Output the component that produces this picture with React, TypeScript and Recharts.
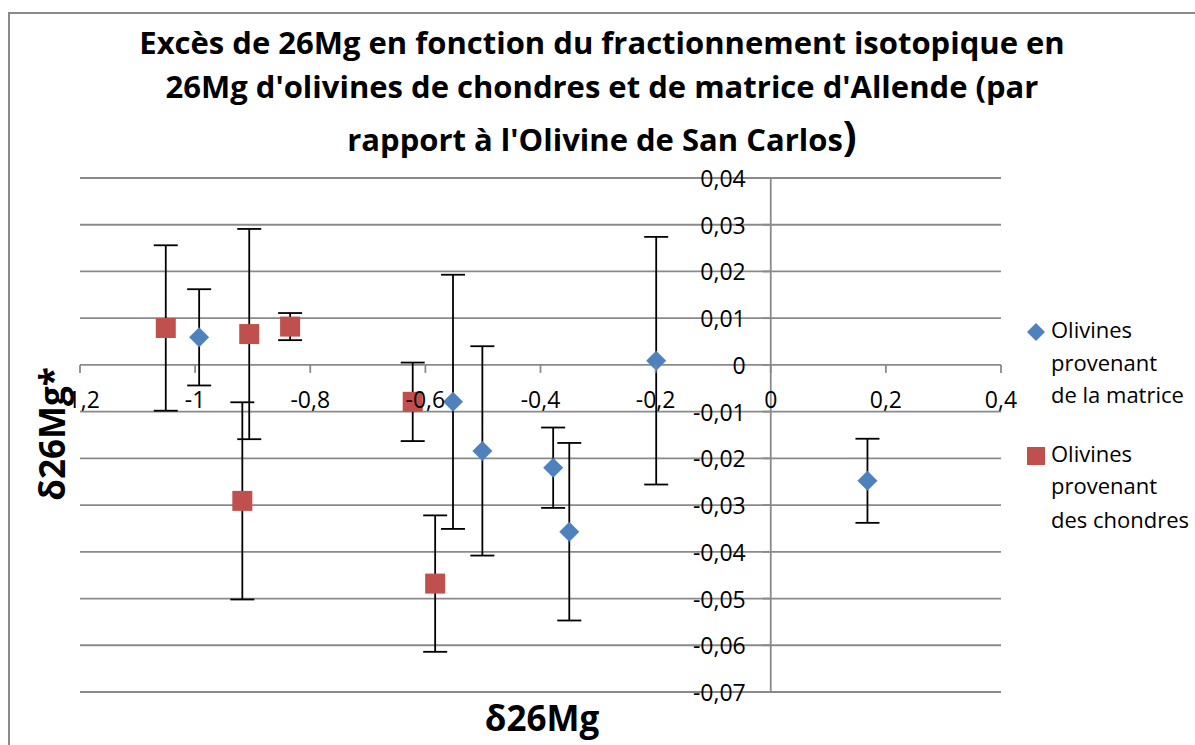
import { ScatterChart, Scatter, XAxis, YAxis, ErrorBar, ReferenceLine, ReferenceDot } from 'recharts'

// axis ticks
const xTicks = [-1.2, -1, -0.8, -0.6, -0.4, -0.2, 0, 0.2, 0.4]
const yTicks = [0.04, 0.03, 0.02, 0.01, 0, -0.01, -0.02, -0.03, -0.04, -0.05, -0.06, -0.07]

// Olivines provenant de la matrice
const matriceX = [-0.993, -0.552, -0.501, -0.378, -0.35, -0.199, 0.168]
const matriceY = [0.0059, -0.0079, -0.0184, -0.022, -0.0357, 0.0009, -0.0248]
const matriceErr = [0.0103, 0.0272, 0.0224, 0.0086, 0.019, 0.0265, 0.009]

// Olivines provenant des chondres
const chondresX = [-1.051, -0.918, -0.906, -0.835, -0.622, -0.583]
const chondresY = [0.0079, -0.0291, 0.0066, 0.0082, -0.0079, -0.0468]
const chondresErr = [0.0177, 0.0211, 0.0225, 0.0029, 0.0084, 0.0146]

const BLUE = '#4F81BD'
const RED = '#C0504D'
const GRID = '#8a8a8a'
const FONT = '"Open Sans", Lato, sans-serif'

const matrice = matriceX.map((x, i) => ({ x, y: matriceY[i], err: matriceErr[i] }))
const chondres = chondresX.map((x, i) => ({ x, y: chondresY[i], err: chondresErr[i] }))

const fmt = (v: number) => String(+v.toFixed(2)).replace('.', ',')

const Diamond = (p: any) => (
  <path d={`M${p.cx},${p.cy - 10}L${p.cx + 10},${p.cy}L${p.cx},${p.cy + 10}L${p.cx - 10},${p.cy}Z`} fill={BLUE} />
)
const Square = (p: any) => <rect x={p.cx - 10} y={p.cy - 10} width={20} height={20} fill={RED} />

export default function App() {
  return (
    <div style={{ position: 'absolute', left: 0, top: 0, width: 1195, height: 745, overflow: 'hidden', background: '#fff' }}>
      <div style={{ position: 'absolute', left: 8, top: 12, width: 1400, height: 1000, border: `2px solid ${GRID}` }} />
      <div style={{ position: 'absolute', left: 0, top: 0 }}>
        <ScatterChart width={1195} height={745} margin={{ top: 178, right: 194, bottom: 53, left: 80 }}>
          <XAxis type="number" dataKey="x" domain={[-1.2, 0.4]} ticks={xTicks} allowDataOverflow height={0} tick={false} axisLine={false} tickLine={false} />
          <YAxis type="number" dataKey="y" domain={[-0.07, 0.04]} ticks={yTicks} allowDataOverflow width={0} tick={false} axisLine={false} tickLine={false} />
          {yTicks.map((t) => (
            <ReferenceLine key={'g' + t} y={t} stroke={GRID} strokeWidth={1.8} ifOverflow="visible" />
          ))}
          <ReferenceLine x={0} stroke={GRID} strokeWidth={1.8} />
          <Scatter data={matrice} shape={Diamond} isAnimationActive={false}>
            <ErrorBar dataKey="err" direction="y" width={12} stroke="#000" strokeWidth={1.8} />
          </Scatter>
          <Scatter data={chondres} shape={Square} isAnimationActive={false}>
            <ErrorBar dataKey="err" direction="y" width={12} stroke="#000" strokeWidth={1.8} />
          </Scatter>
          {xTicks.map((t) => (
            <ReferenceDot
              key={'x' + t}
              x={t}
              y={0}
              r={0}
              ifOverflow="visible"
              shape={(p: any) => (
                <g>
                  <line x1={p.cx} y1={p.cy} x2={p.cx} y2={p.cy + 8} stroke={GRID} strokeWidth={1.8} />
                  <text x={p.cx} y={p.cy + 43} textAnchor="middle" fontFamily={FONT} fontSize={23} fill="#000">
                    {fmt(t)}
                  </text>
                </g>
              )}
            />
          ))}
          {yTicks.map((t) => (
            <ReferenceDot
              key={'y' + t}
              x={0}
              y={t}
              r={0}
              ifOverflow="visible"
              shape={(p: any) => (
                <g>
                  <line x1={p.cx - 8} y1={p.cy} x2={p.cx} y2={p.cy} stroke={GRID} strokeWidth={1.8} />
                  <text x={p.cx - 25} y={p.cy + 9} textAnchor="end" fontFamily={FONT} fontSize={23} fill="#000">
                    {fmt(t)}
                  </text>
                </g>
              )}
            />
          ))}
        </ScatterChart>
      </div>
      <svg width={1195} height={745} style={{ position: 'absolute', left: 0, top: 0, pointerEvents: 'none' }}>
        <g fontFamily={FONT} fontWeight="bold" fill="#000" textAnchor="middle">
          <text x={602} y={54} fontSize={31}>Excès de 26Mg en fonction du fractionnement isotopique en</text>
          <text x={602} y={98} fontSize={31}>26Mg d'olivines de chondres et de matrice d'Allende (par</text>
          <text x={602} y={151} fontSize={31}>
            rapport à l'Olivine de San Carlos<tspan fontSize={41}>)</tspan>
          </text>
          <text x={542} y={731} fontSize={35}>δ26Mg</text>
          <text x={0} y={0} fontSize={35} transform="translate(65,434) rotate(-90)">δ26Mg*</text>
        </g>
        <g fontFamily={FONT} fontSize={22} fill="#000">
          <path d="M1036,323L1045,332L1036,341L1027,332Z" fill={BLUE} />
          <text x={1051} y={338}>Olivines</text>
          <text x={1051} y={371}>provenant</text>
          <text x={1051} y={403}>de la matrice</text>
          <rect x={1027} y={447} width={18} height={18} fill={RED} />
          <text x={1051} y={462}>Olivines</text>
          <text x={1051} y={494}>provenant</text>
          <text x={1051} y={528}>des chondres</text>
        </g>
      </svg>
    </div>
  )
}
